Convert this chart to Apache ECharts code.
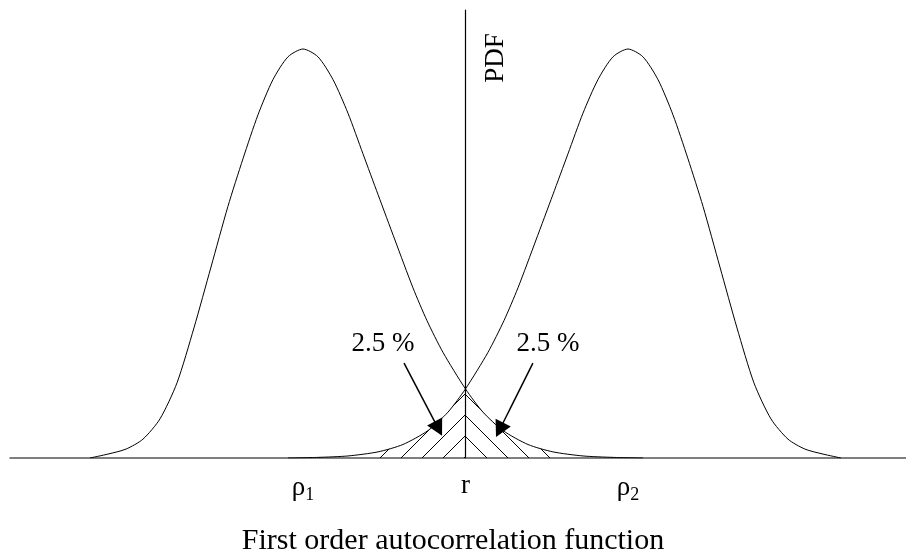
<!DOCTYPE html>
<html>
<head>
<meta charset="utf-8">
<script src="https://cdn.jsdelivr.net/npm/echarts@6/dist/echarts.min.js"></script>
<style>html,body{margin:0;padding:0;background:#fff}#c{width:906px;height:558px}</style>
</head>
<body>
<div id="c"></div>
<script>
// ---- data (x: r = 0, rho1 = -1, rho2 = +1; y: PDF relative to peak) ----
const curve1X = [-2.311,-2.200,-2.089,-1.985,-1.880,-1.775,-1.671,-1.566,-1.462,-1.369,-1.277,-1.185,-1.092,-1,-0.908,-0.815,-0.723,-0.631,-0.538,-0.434,-0.323,-0.237,-0.138,0,0.108,0.231,0.385,0.538,0.723,0.908,1.092];
const curve1Y = [0,0.0096,0.0218,0.046,0.0956,0.184,0.318,0.467,0.615,0.732,0.839,0.925,0.981,1,0.981,0.925,0.843,0.744,0.644,0.533,0.416,0.336,0.258,0.169,0.112,0.067,0.033,0.015,0.005,0.0015,0];
const curve2X = [-1.092,-0.908,-0.723,-0.538,-0.385,-0.231,-0.108,0,0.138,0.237,0.323,0.434,0.538,0.631,0.723,0.815,0.908,1,1.092,1.185,1.277,1.369,1.462,1.566,1.671,1.775,1.880,1.985,2.089,2.200,2.311];
const curve2Y = [0,0.0015,0.005,0.015,0.033,0.067,0.112,0.169,0.258,0.336,0.416,0.533,0.644,0.744,0.843,0.925,0.981,1,0.981,0.925,0.839,0.732,0.615,0.467,0.318,0.184,0.0956,0.046,0.0218,0.0096,0];
const rhoPositions = [-1, 1];
const tickValues = [-1, 0, 1];
const tickLabels = ['{a|ρ}{b|1}', '{a|r}', '{a|ρ}{b|2}'];
const hatchLeftRange = [-0.55, 0];   // tail of curve 2 below r
const hatchRightRange = [0, 0.58];   // tail of curve 1 above r
const arrowStarts = [[-0.378, 0.232], [0.415, 0.232]];
const arrowEnds = [[-0.167, 0.072], [0.210, 0.069]];
const pctLabelPos = [[-0.508, 0.279], [0.508, 0.279]];
const pctLabelText = ['2.5 %', '2.5 %'];
const titleText = 'First order autocorrelation function';
const yName = 'PDF';

const FONT = '"Liberation Serif", "Times New Roman", Times, serif';
const pts = (xs, ys) => xs.map((x, i) => [x, ys[i]]);
const c1 = pts(curve1X, curve1Y), c2 = pts(curve2X, curve2Y);
const hatchLeft = c2.filter(p => p[0] >= hatchLeftRange[0] && p[0] <= hatchLeftRange[1]);
const hatchRight = c1.filter(p => p[0] >= hatchRightRange[0] && p[0] <= hatchRightRange[1]);

function hatchTile(dir) {
  const s = 21, cv = document.createElement('canvas');
  cv.width = s; cv.height = s;
  const g = cv.getContext('2d');
  g.strokeStyle = '#000'; g.lineWidth = 1;
  g.beginPath();
  if (dir === '/') { [-2, 19].forEach(k => { g.moveTo(k, s); g.lineTo(k + s, 0); }); }
  else { [8, -13].forEach(k => { g.moveTo(k, 0); g.lineTo(k + s, s); }); }
  g.stroke();
  return cv;
}

const chart = echarts.init(document.getElementById('c'), null, {renderer: 'canvas'});
const common = {type: 'line', showSymbol: false, symbol: 'none', smooth: 0.25, silent: true};
chart.setOption({
  animation: false,
  backgroundColor: '#fff',
  title: {text: titleText, left: 'center', top: 526, padding: 0,
    textStyle: {fontFamily: FONT, fontSize: 30, fontWeight: 'normal', color: '#000'}},
  grid: {left: 10, right: 0, top: 10, bottom: 100, containLabel: false},
  xAxis: {type: 'value', min: -2.803, max: 2.711,
    axisLine: {show: true, onZero: false, lineStyle: {color: '#555', width: 1.5}},
    axisTick: {show: false}, splitLine: {show: false},
    axisLabel: {customValues: tickValues, margin: 14, color: '#000',
      formatter: v => tickLabels[tickValues.indexOf(v)] || '',
      rich: {a: {fontFamily: FONT, fontSize: 27, color: '#000'},
             b: {fontFamily: FONT, fontSize: 18, color: '#000', padding: [14, 0, 0, 0]}}}},
  yAxis: {type: 'value', min: 0, max: 1.0954,
    axisLine: {show: true, onZero: true, lineStyle: {color: '#000', width: 1.2}},
    axisTick: {show: false}, splitLine: {show: false}, axisLabel: {show: false}},
  graphic: [{type: 'text', x: 496, y: 58, rotation: Math.PI / 2,
    style: {text: yName, fontFamily: FONT, fontSize: 27, fill: '#000', align: 'center', verticalAlign: 'middle'}}],
  series: [
    Object.assign({}, common, {data: hatchLeft, z: 1, lineStyle: {width: 0},
      areaStyle: {color: {image: hatchTile('/'), repeat: 'repeat'}, opacity: 1},
      markPoint: {symbol: 'circle', symbolSize: 0, silent: true,
        label: {show: true, position: 'inside', fontFamily: FONT, fontSize: 27, color: '#000',
          formatter: p => p.name},
        data: pctLabelPos.map((p, i) => ({coord: p, name: pctLabelText[i]}))}}),
    Object.assign({}, common, {data: hatchRight, z: 1, lineStyle: {width: 0},
      areaStyle: {color: {image: hatchTile('\\'), repeat: 'repeat'}, opacity: 1}}),
    Object.assign({}, common, {data: c1, z: 3, lineStyle: {color: '#000', width: 1},
      markLine: {symbol: 'none', silent: true, label: {show: false},
        lineStyle: {color: '#000', width: 1, type: [3, 3]},
        data: rhoPositions.map(x => [{coord: [x, -0.015]}, {coord: [x, 1]}])}}),
    Object.assign({}, common, {data: c2, z: 3, lineStyle: {color: '#000', width: 1},
      markLine: {symbol: ['none', 'triangle'], symbolSize: [17, 16], silent: true, label: {show: false},
        lineStyle: {color: '#000', width: 1.5, type: 'solid'},
        data: arrowStarts.map((s, i) => [{coord: s}, {coord: arrowEnds[i]}])}})
  ]
});
</script>
</body>
</html>
